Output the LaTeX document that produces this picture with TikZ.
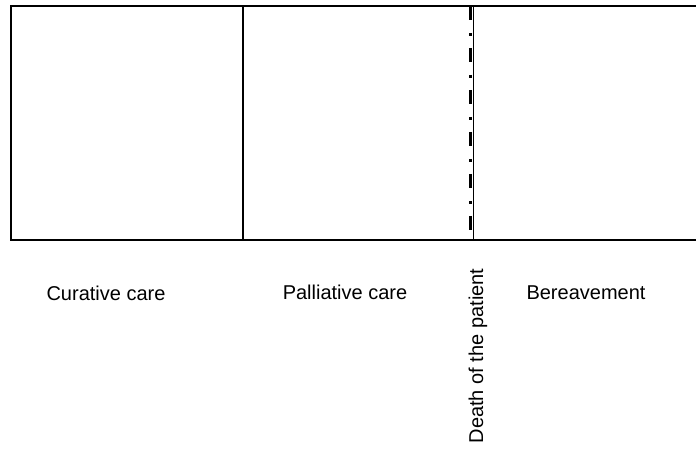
\documentclass[tikz,border=0pt]{standalone}
\usepackage{fontspec}
\setmainfont{Liberation Sans}
\tikzset{
  frame/.style={line width=1.8pt, black},
  divider/.style={line width=1.5pt, black},
  deathline/.style={line width=3.5pt, black, dash pattern=on 14pt off 13pt on 3pt off 12pt},
  label/.style={font=\fontsize{20}{24}\selectfont, inner sep=0pt, anchor=base}
}
\begin{document}
\begin{tikzpicture}[x=1pt,y=-1pt]
\useasboundingbox (0,0) rectangle (696,454);
% frame
\draw[frame] (700,6) -- (11,6) -- (11,240) -- (700,240);
\draw[divider] (243,6) -- (243,240);
\draw[deathline] (470.5,6) -- (470.5,240);
\draw[line width=1pt] (473.5,6) -- (473.5,240);
% labels
\node[label] (curative) at (106,301) {Curative care};
\node[label] (palliative) at (345,300) {Palliative care};
\node[label] (bereavement) at (586,300) {Bereavement};
\node[label, rotate=90] (death) at (483,356) {Death of the patient};
\end{tikzpicture}
\end{document}
